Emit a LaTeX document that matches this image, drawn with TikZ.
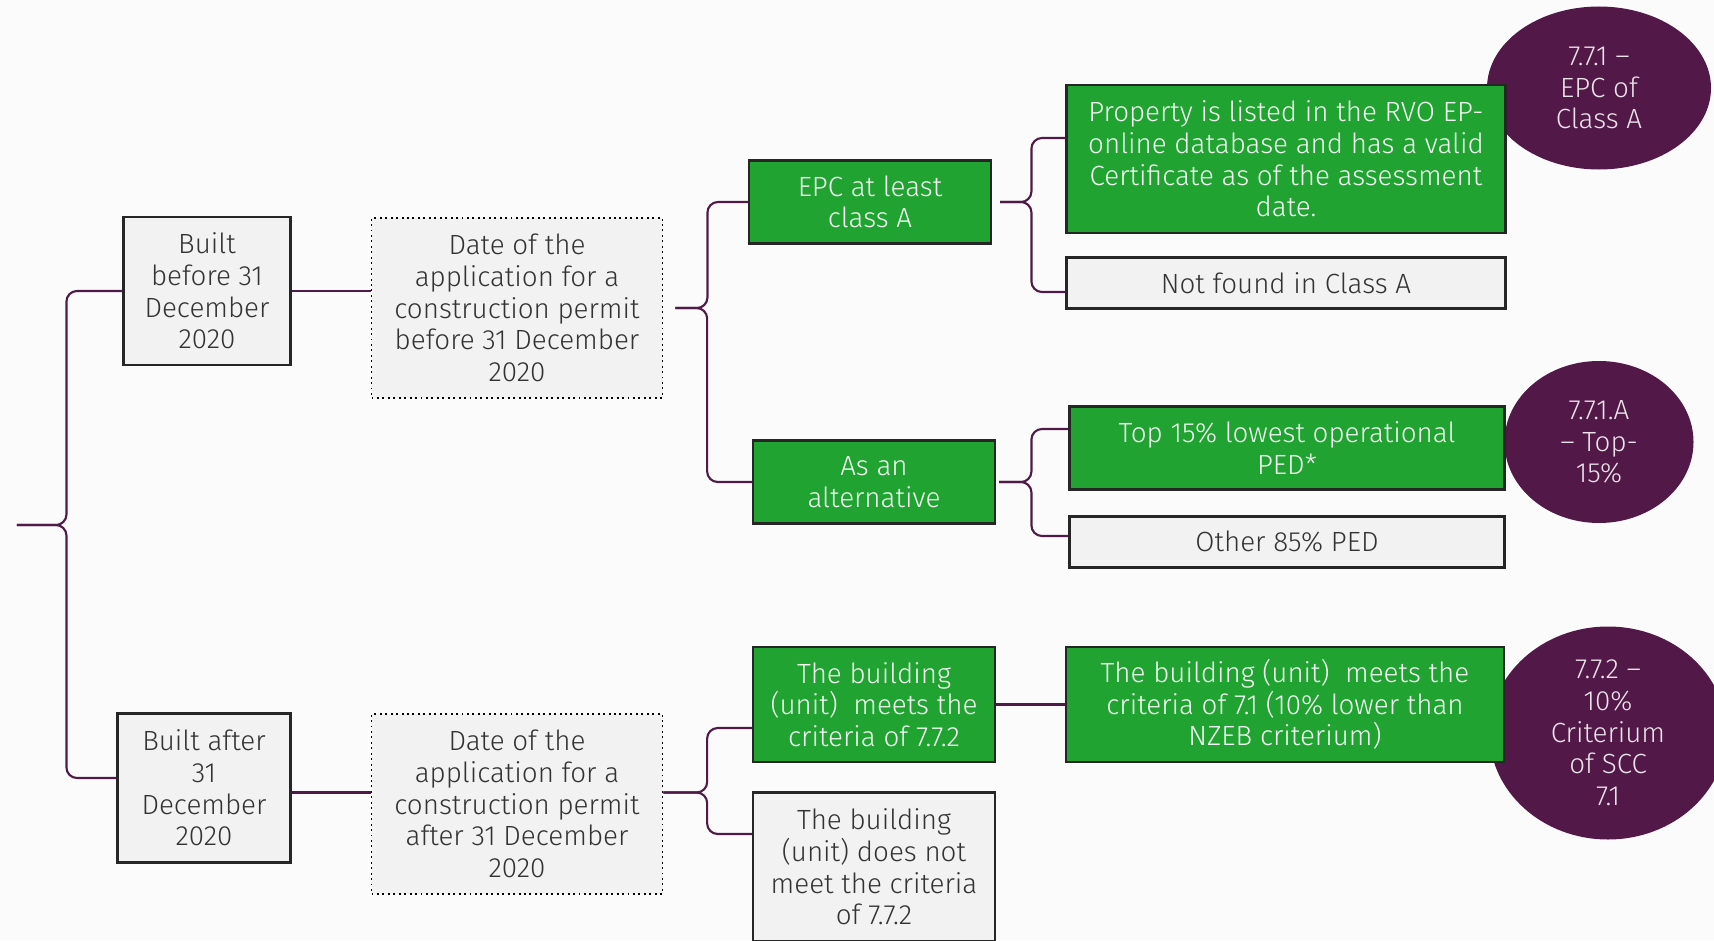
\documentclass[tikz,border=0pt]{standalone}
\usepackage{fontspec}
\setmainfont{Fira Sans Light}
\usetikzlibrary{shapes.geometric,calc}

\definecolor{bgc}{HTML}{FBFBFB}
\definecolor{boxgrey}{HTML}{F2F2F2}
\definecolor{okgreen}{HTML}{21A332}
\definecolor{plum}{HTML}{521848}
\definecolor{linkplum}{HTML}{4F1A47}
\definecolor{txtgrey}{HTML}{333333}

\begin{document}
\begin{tikzpicture}[
    every node/.style={font=\fontsize{7.9}{9}\selectfont, align=center, inner sep=0pt},
    greybox/.style={draw=black!85, line width=0.6pt, fill=boxgrey, text=txtgrey},
    datebox/.style={draw=black, densely dotted, line width=0.55pt, fill=boxgrey, text=txtgrey},
    greenbox/.style={draw=black!85, line width=0.6pt, fill=okgreen, text=white!94!okgreen},
    badge/.style={ellipse, fill=plum, text=white!88!plum},
    link/.style={draw=linkplum, line width=0.6pt, rounded corners=3pt}
]
        \useasboundingbox (0,0) rectangle (17.14,9.40);
        \fill[bgc] (0,0) rectangle (17.14,9.40);

        % Badges (behind the boxes)
        \node[badge, minimum width=2.24cm, minimum height=1.63cm] (c771) at (15.99,8.52) {7.7.1 –\\EPC of\\Class A};
        \node[badge, minimum width=1.89cm, minimum height=1.62cm] (c771a) at (15.99,4.98) {7.7.1.A\\– Top-\\15\%};
        \node[badge, minimum width=2.37cm, minimum height=2.13cm] (c772) at (16.08,2.07) {7.7.2 –\\10\%\\Criterium\\of SCC\\7.1};

        % Building age
        \node[greybox, minimum width=1.67cm, minimum height=1.48cm] (bb) at (2.07,6.49) {Built\\before 31\\December\\2020};
        \node[greybox, minimum width=1.73cm, minimum height=1.49cm] (ba) at (2.04,1.52) {Built after\\31\\December\\2020};

        % Permit dates
        \node[datebox, minimum width=2.91cm, minimum height=1.80cm] (db) at (5.17,6.32) {Date of the\\application for a\\construction permit\\before 31 December\\2020};
        \node[datebox, minimum width=2.91cm, minimum height=1.80cm] (da) at (5.17,1.36) {Date of the\\application for a\\construction permit\\after 31 December\\2020};

        % Criteria
        \node[greenbox, minimum width=2.42cm, minimum height=0.83cm] (epc) at (8.70,7.38) {EPC at least\\class A};
        \node[greenbox, minimum width=2.42cm, minimum height=0.83cm] (alt) at (8.74,4.58) {As an\\alternative};
        \node[greenbox, minimum width=2.42cm, minimum height=1.15cm] (meet) at (8.74,2.355) {The building\\(unit)\ \ meets the\\criteria of 7.7.2};
        \node[greybox, minimum width=2.42cm, minimum height=1.49cm] (nomeet) at (8.74,0.73) {The building\\(unit) does not\\meet the criteria\\of 7.7.2};

        % Outcomes
        \node[greenbox, minimum width=4.39cm, minimum height=1.475cm] (prop) at (12.86,7.81) {Property is listed in the RVO EP-\\online database and has a valid\\Certificate as of the assessment\\date.};
        \node[greybox, minimum width=4.39cm, minimum height=0.51cm] (notf) at (12.86,6.57) {Not found in Class A};
        \node[greenbox, minimum width=4.35cm, minimum height=0.83cm] (top15) at (12.87,4.92) {Top 15\% lowest operational\\PED*};
        \node[greybox, minimum width=4.35cm, minimum height=0.51cm] (oth85) at (12.87,3.98) {Other 85\% PED};
        \node[greenbox, minimum width=4.38cm, minimum height=1.15cm] (nzeb) at (12.85,2.355) {The building (unit)\ \ meets the\\criteria of 7.1 (10\% lower than\\NZEB criterium)};

        % Root brace
        \coordinate (root) at (0.17,4.15);
        \draw[link] (root) -| ([xshift=-5.6mm]bb.west) -- (bb.west);
        \draw[link] (root) -| ([xshift=-5.0mm,yshift=1mm]ba.west) -- ([yshift=1mm]ba.west);

        % Before 2021
        \draw[link] (bb.east) -- (bb.east -| db.west);
        \draw[link] ([xshift=1.2mm]db.east) -| ([xshift=-4.05mm]epc.west) -- (epc.west);
        \draw[link] ([xshift=1.2mm]db.east) -| ([xshift=-4.48mm]alt.west) -- (alt.west);
        \draw[link] ([xshift=0.8mm]epc.east) -| ([xshift=-3.4mm,yshift=2.1mm]prop.west) -- ([yshift=2.1mm]prop.west);
        \draw[link] ([xshift=0.8mm]epc.east) -| ([xshift=-3.4mm,yshift=-0.9mm]notf.west) -- ([yshift=-0.9mm]notf.west);
        \draw[link] ([xshift=0.3mm]alt.east) -| ([xshift=-3.7mm,yshift=1.9mm]top15.west) -- ([yshift=1.9mm]top15.west);
        \draw[link] ([xshift=0.3mm]alt.east) -| ([xshift=-3.7mm,yshift=0.6mm]oth85.west) -- ([yshift=0.6mm]oth85.west);

        % After 2020
        \coordinate (split) at ([yshift=-0.45mm]ba.east -| da.east);
        \draw[link] ([yshift=-0.45mm]ba.east) -- ([yshift=-0.45mm]ba.east -| da.west);
        \draw[link] (split) -| ([xshift=-4.48mm,yshift=-2.35mm]meet.west) -- ([yshift=-2.35mm]meet.west);
        \draw[link] (split) -| ([xshift=-4.48mm,yshift=3.3mm]nomeet.west) -- ([yshift=3.3mm]nomeet.west);
        \draw[link] (meet.east) -- (nzeb.west);
\end{tikzpicture}
\end{document}
